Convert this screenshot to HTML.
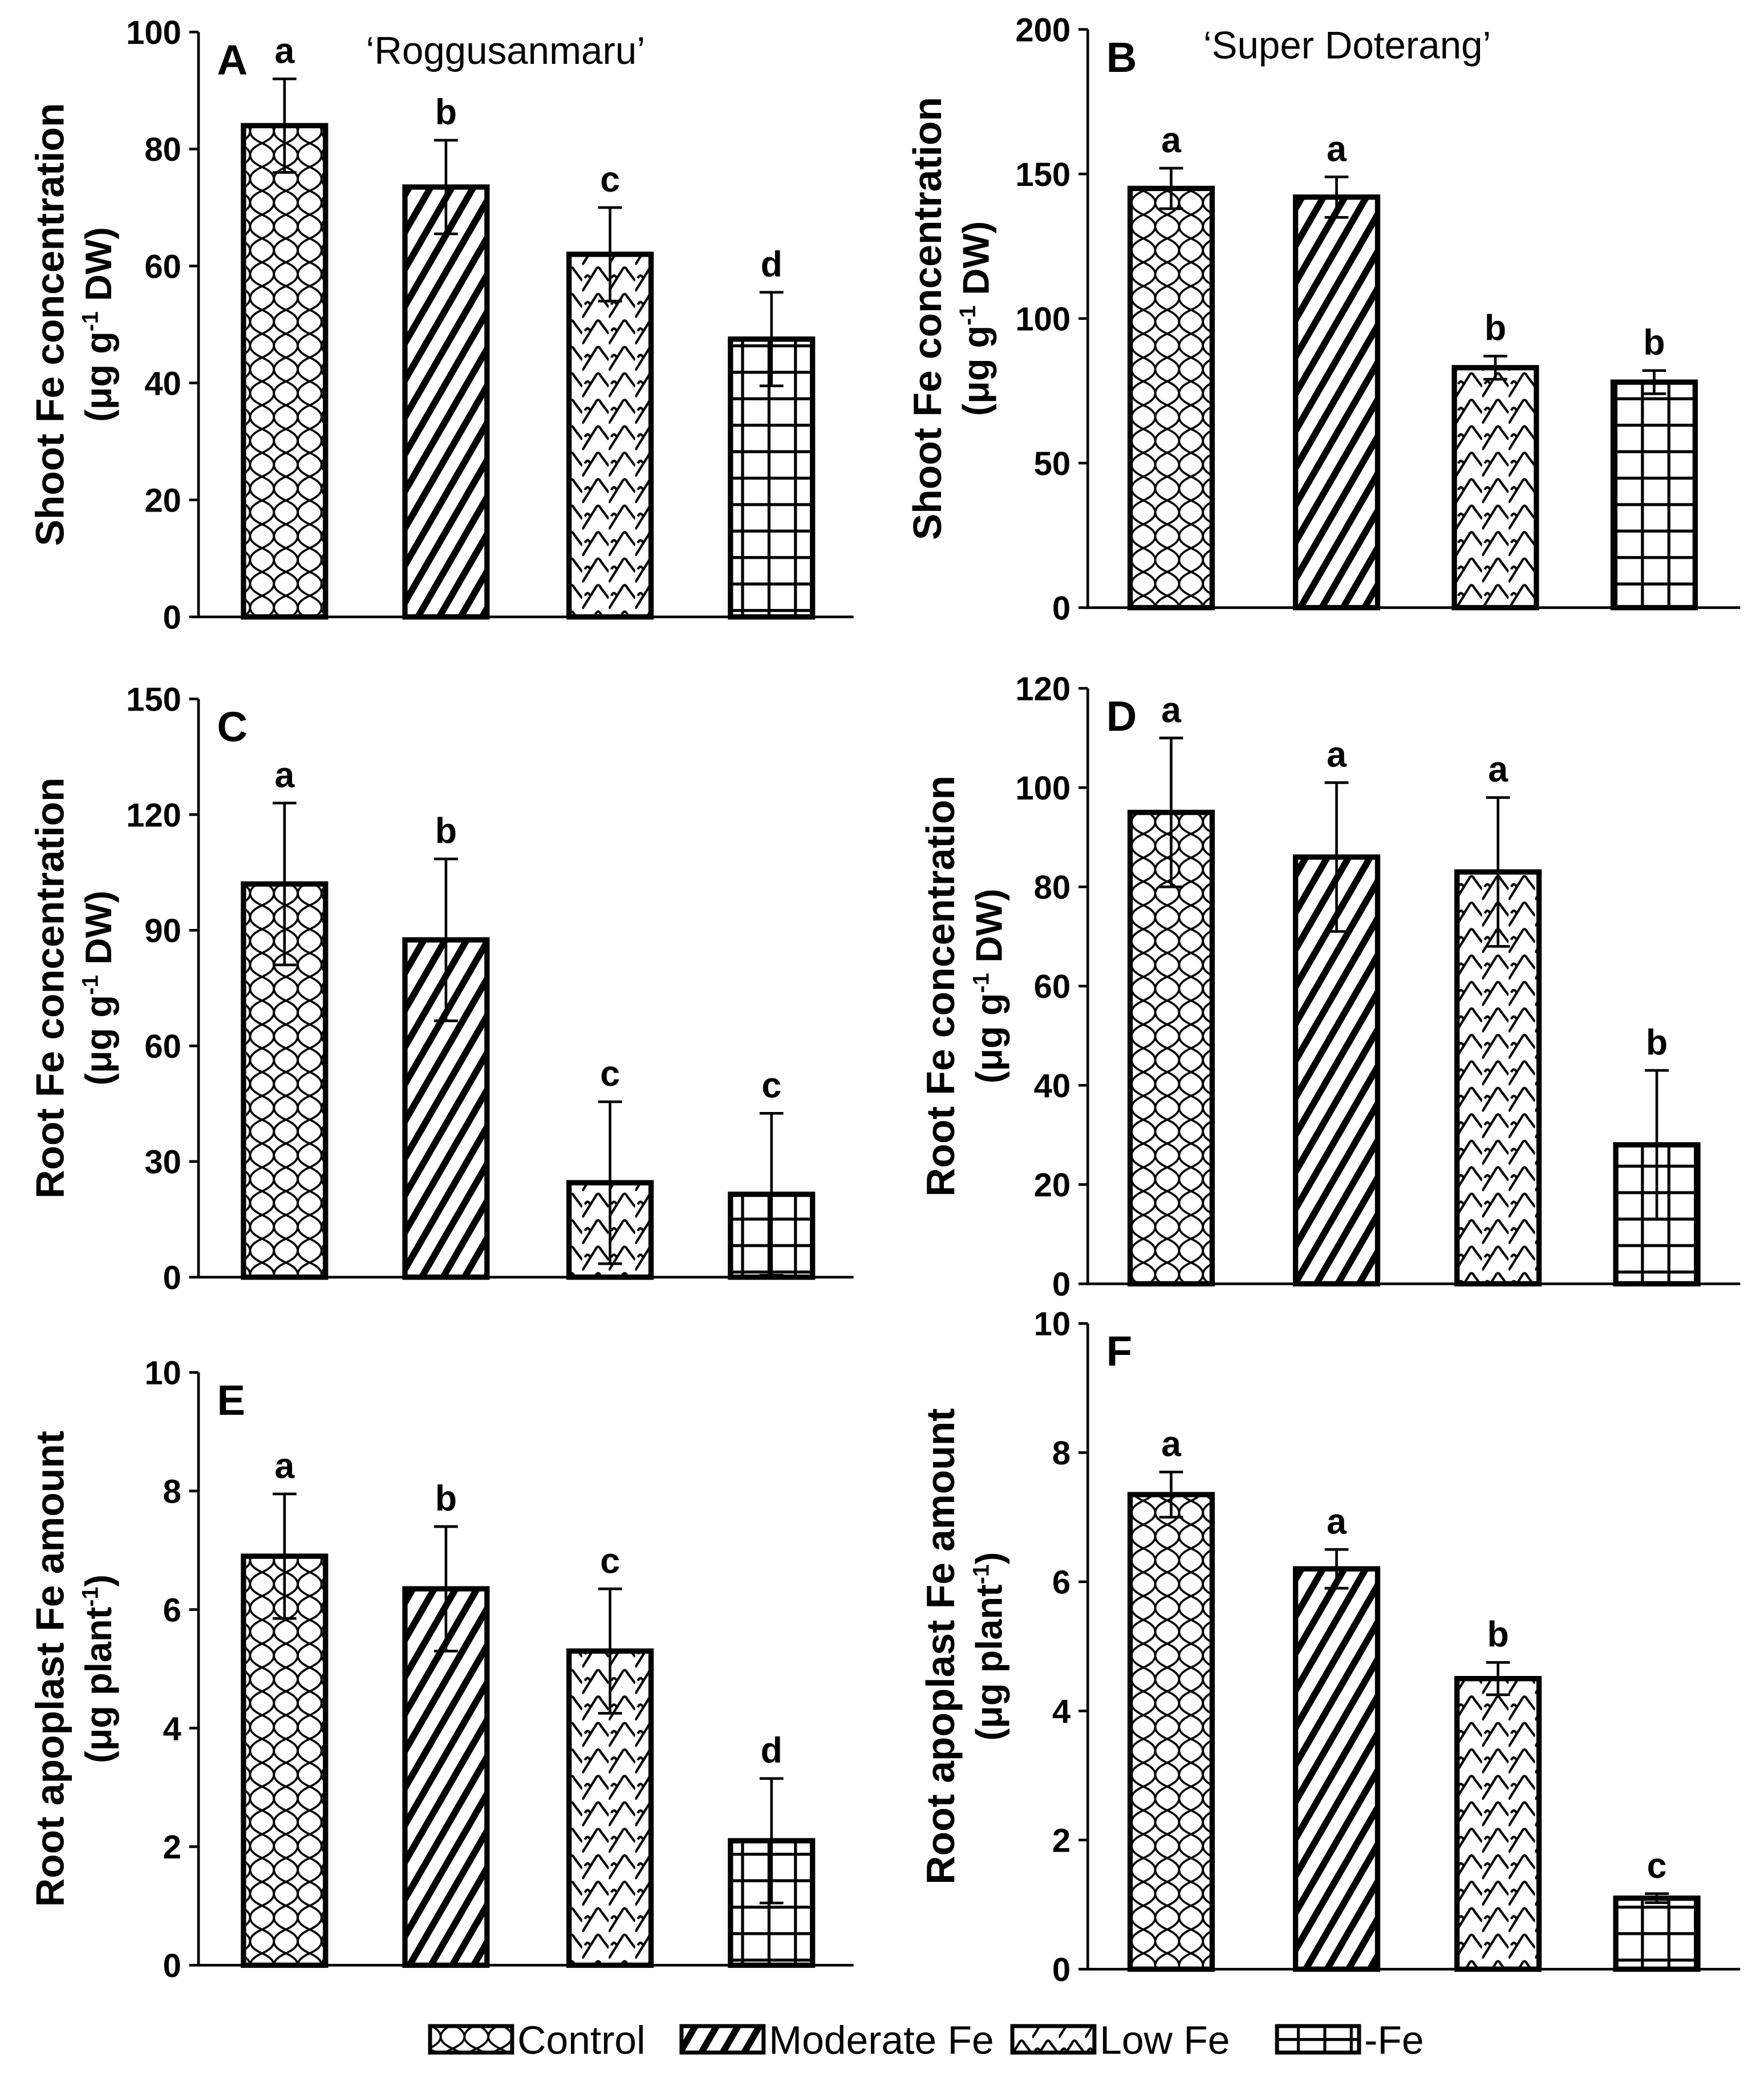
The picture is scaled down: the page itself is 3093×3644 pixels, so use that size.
<!DOCTYPE html>
<html><head><meta charset="utf-8"><style>
html,body{margin:0;padding:0;background:#fff}
svg{display:block}
text{font-family:"Liberation Sans",Arial,sans-serif;fill:#000}
</style></head><body>
<svg id="chart" width="3093" height="3644" viewBox="0 0 1333 1570" xmlns="http://www.w3.org/2000/svg">
<defs>
<pattern id="p-control" width="18" height="18" patternUnits="userSpaceOnUse">
<rect width="18" height="18" fill="#fff"/>
<path d="M0,0 Q9,4 9,9 Q9,14 18,18 M18,0 Q9,4 9,9 Q9,14 0,18" fill="none" stroke="#000" stroke-width="1.6"/>
</pattern>
<pattern id="p-moderate" width="14" height="14" patternUnits="userSpaceOnUse" patternTransform="rotate(30)">
<rect width="14" height="14" fill="#fff"/>
<rect x="0" y="0" width="5" height="14" fill="#000"/>
</pattern>
<pattern id="p-low" width="20" height="20" patternUnits="userSpaceOnUse">
<rect width="20" height="20" fill="#fff"/>
<path d="M0,20 L10,4 Q12,0 14,4 L20,12 M2,10 Q4,6 6,10" fill="none" stroke="#000" stroke-width="1.8"/>
</pattern>
<pattern id="p-nofe" width="20" height="20" patternUnits="userSpaceOnUse">
<rect width="20" height="20" fill="#fff"/>
<path d="M0,1 H20 M1,0 V20" stroke="#000" stroke-width="2.5"/>
</pattern>
</defs>
<g id="panels"></g>
<g id="legend"></g>
</svg>
<script>
const treatments = ["Control","Moderate Fe","Low Fe","-Fe"];
const valsA = [84,73.5,62,47.5];
const errA = [8,8,8,8];
const letA = ["a","b","c","d"];
const valsB = [145,142,83,78];
const errB = [7,7,4,4];
const letB = ["a","a","b","b"];
const valsC = [102,87.5,24.5,21.5];
const errC = [21,21,21,21];
const letC = ["a","b","c","c"];
const valsD = [95,86,83,28];
const errD = [15,15,15,15];
const letD = ["a","a","a","b"];
const valsE = [6.9,6.35,5.3,2.1];
const errE = [1.05,1.05,1.05,1.05];
const letE = ["a","b","c","d"];
const valsF = [7.35,6.2,4.5,1.1];
const errF = [0.35,0.3,0.25,0.07];
const letF = ["a","a","b","c"];
const ticksA = [0,20,40,60,80,100];
const ticksB = [0,50,100,150,200];
const ticksC = [0,30,60,90,120,150];
const ticksD = [0,20,40,60,80,100,120];
const ticksE = [0,2,4,6,8,10];
const ticksF = [0,2,4,6,8,10];
const patterns = ["p-control","p-moderate","p-low","p-nofe"];
const NS="http://www.w3.org/2000/svg";
function mk(tag,attrs,parent){const e=document.createElementNS(NS,tag);for(const k in attrs)e.setAttribute(k,attrs[k]);parent.appendChild(e);return e;}
const root=document.getElementById('panels');
const panels=[
 {id:"A",vals:valsA,err:errA,let:letA,ticks:ticksA,ax:150,x1:645,y0:466,yt:24,cx:[215,337,461,583],t1:"Shoot Fe concentration",t2:"(μg g",sup:"-1",t3:" DW)",tx:30,title:"‘Roggusanmaru’",ttx:382,tty:48},
 {id:"B",vals:valsB,err:errB,let:letB,ticks:ticksB,ax:822,x1:1315,y0:459,yt:22,cx:[885,1010,1130,1250],t1:"Shoot Fe concentration",t2:"(μg g",sup:"-1",t3:" DW)",tx:693,title:"‘Super Doterang’",ttx:1018,tty:44},
 {id:"C",vals:valsC,err:errC,let:letC,ticks:ticksC,ax:150,x1:645,y0:965,yt:528,cx:[215,337,461,583],t1:"Root Fe concentration",t2:"(μg g",sup:"-1",t3:" DW)",tx:30},
 {id:"D",vals:valsD,err:errD,let:letD,ticks:ticksD,ax:822,x1:1315,y0:970,yt:520,cx:[885,1010,1132,1252],t1:"Root Fe concentration",t2:"(μg g",sup:"-1",t3:" DW)",tx:703},
 {id:"E",vals:valsE,err:errE,let:letE,ticks:ticksE,ax:150,x1:645,y0:1485,yt:1037,cx:[215,337,461,583],t1:"Root apoplast Fe amount",t2:"(μg plant",sup:"-1",t3:")",tx:30},
 {id:"F",vals:valsF,err:errF,let:letF,ticks:ticksF,ax:822,x1:1315,y0:1488,yt:1000,cx:[885,1010,1132,1252],t1:"Root apoplast Fe amount",t2:"(μg plant",sup:"-1",t3:")",tx:703}
];
panels.forEach(p=>{
 const g=mk('g',{},root);
 
 
 const max=p.ticks[p.ticks.length-1];
 const y=v=>p.y0-(v/max)*(p.y0-p.yt);
 const axis=mk('path',{d:`M${p.ax},${p.yt} V${p.y0} H${p.x1}`,stroke:'#000','stroke-width':2,fill:'none'},g);
 
 
 p.ticks.forEach(t=>{
  mk('line',{x1:p.ax-7,x2:p.ax,y1:y(t),y2:y(t),stroke:'#000','stroke-width':2},g);
  const tl=mk('text',{x:p.ax-13,y:y(t)+9,'text-anchor':'end','font-size':25,'font-weight':'bold'},g);
  tl.textContent=t;
  
  
 });
 p.vals.forEach((v,i)=>{
  const bw=62,cx=p.cx[i];
  const b=mk('rect',{x:cx-bw/2,y:y(v),width:bw,height:p.y0-y(v),fill:`url(#${patterns[i]})`,stroke:'#000','stroke-width':4},g);
  
  
  const hi=y(v+p.err[i]),lo=y(v-p.err[i]);
  mk('path',{d:`M${cx},${lo} V${hi} M${cx-9},${hi} H${cx+9} M${cx-9},${lo} H${cx+9}`,stroke:'#000','stroke-width':2,fill:'none'},g);
  const lt=mk('text',{x:cx,y:hi-12,'text-anchor':'middle','font-size':27,'font-weight':'bold'},g);
  lt.textContent=p.let[i];
  
  
 });
 const cy=(p.y0+p.yt)/2;
 const tt=mk('text',{transform:`translate(${p.tx+18},${cy}) rotate(-90)`,'text-anchor':'middle','font-size':30,'font-weight':'bold'},g);
 tt.textContent=p.t1;
 
 
 const t2=mk('text',{transform:`translate(${p.tx+54},${cy}) rotate(-90)`,'text-anchor':'middle','font-size':28,'font-weight':'bold'},g);
 
 
 const s1=mk('tspan',{},t2);s1.textContent=p.t2;
 const s2=mk('tspan',{'font-size':17,dy:-10},t2);s2.textContent=p.sup;
 const s3=mk('tspan',{dy:10},t2);s3.textContent=p.t3;
 const pl=mk('text',{x:p.ax+14,y:p.yt+32,'font-size':32,'font-weight':'bold'},g);
 pl.textContent=p.id;
 
 
 if(p.title){
  const ti=mk('text',{x:p.ttx,y:p.tty,'text-anchor':'middle','font-size':29},g);
  ti.textContent=p.title;
  
  
 }
});
const lg=document.getElementById('legend');
const lx=[325,515,765,965];
treatments.forEach((t,i)=>{
 const r=mk('rect',{x:lx[i],y:1531,width:62,height:20,fill:`url(#${patterns[i]})`,stroke:'#000','stroke-width':3},lg);
 
 
 const tx=mk('text',{x:lx[i]+66,y:1552,'font-size':30},lg);
 tx.textContent=t;
 
 
});
</script>
</body></html>
